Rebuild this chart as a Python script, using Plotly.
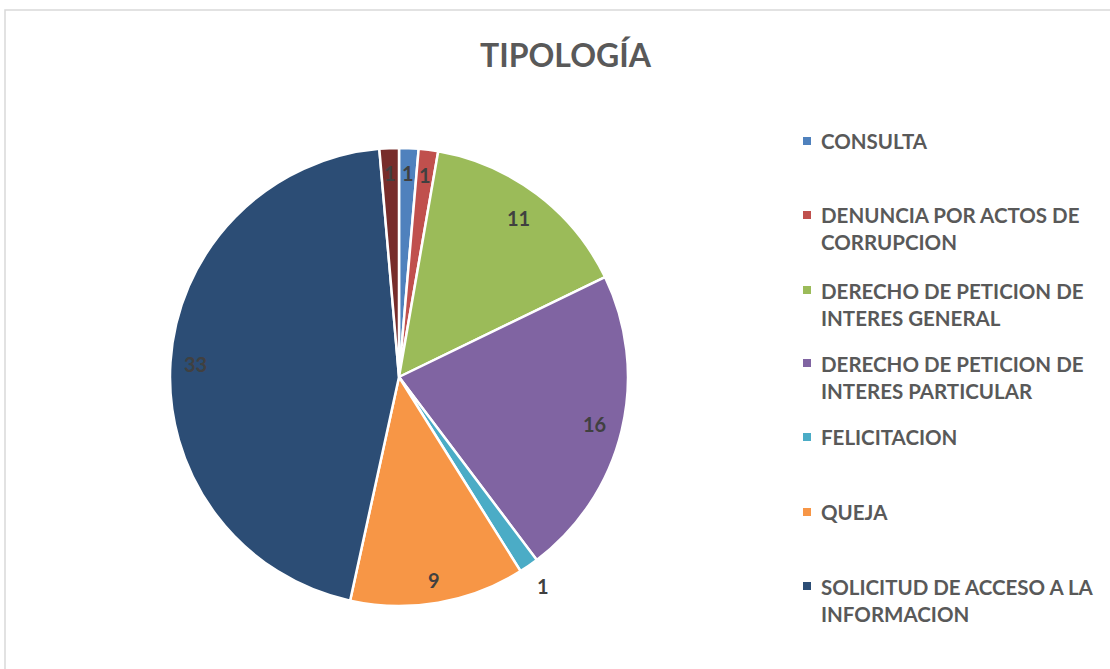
import math
import plotly.graph_objects as go

labels = ['CONSULTA', 'DENUNCIA POR ACTOS DE CORRUPCION', 'DERECHO DE PETICION DE INTERES GENERAL',
          'DERECHO DE PETICION DE INTERES PARTICULAR', 'FELICITACION', 'QUEJA',
          'SOLICITUD DE ACCESO A LA INFORMACION', 'SUGERENCIA']
values = [1, 1, 11, 16, 1, 9, 33, 1]
colors = ['#4F81BD', '#C0504D', '#9BBB59', '#8064A2', '#4BACC6', '#F79646', '#2C4D75', '#772C2A']
label_radius = [0.89, 0.89, 0.87, 0.88, 1.11, 0.9, 0.89, 0.89]  # fraction of pie radius

# legend rows as drawn in the reference (last slice has no visible entry)
legend_text = ['CONSULTA', 'DENUNCIA POR ACTOS DE<br>CORRUPCION', 'DERECHO DE PETICION DE<br>INTERES GENERAL',
               'DERECHO DE PETICION DE<br>INTERES PARTICULAR', 'FELICITACION', 'QUEJA',
               'SOLICITUD DE ACCESO A LA<br>INFORMACION']
legend_y = [141, 229, 304, 377, 437, 512, 600]
legend_lines = [1, 2, 2, 2, 1, 1, 2]

W, H = 1110, 669
FONT = 'Lato'
GREY = '#595959'
CX, CY, R = 399, 377, 229

fig = go.Figure()
fig.add_trace(go.Pie(
    labels=labels, values=values, sort=False, direction='clockwise', rotation=0,
    marker=dict(colors=colors, line=dict(color='white', width=2.5)),
    textinfo='none', hoverinfo='label+value',
    domain=dict(x=[(CX - R) / W, (CX + R) / W], y=[(H - CY - R) / H, (H - CY + R) / H]),
    showlegend=False,
))

shapes = [dict(type='rect', xref='paper', yref='paper', x0=5 / W, x1=1.01, y0=-0.01, y1=(H - 10) / H,
               line=dict(color='#D9D9D9', width=1.5), fillcolor='rgba(0,0,0,0)')]
annotations = [dict(text='<b>TIPOLOGÍA</b>', x=566 / W, y=(H - 55) / H, xref='paper', yref='paper',
                    showarrow=False, xanchor='center', yanchor='middle',
                    font=dict(family=FONT, size=32, color=GREY))]

# data labels placed along each slice's mid angle
total = sum(values)
cum = 0
for v, rf in zip(values, label_radius):
    mid = (cum + v / 2) / total * 2 * math.pi
    cum += v
    px = CX + rf * R * math.sin(mid)
    py = CY - rf * R * math.cos(mid)
    annotations.append(dict(text='<b>%d</b>' % v, x=px / W, y=(H - py) / H, xref='paper', yref='paper',
                            showarrow=False, xanchor='center', yanchor='middle',
                            font=dict(family=FONT, size=20, color='#404040')))

for i, txt in enumerate(legend_text):
    yc = legend_y[i]
    top = yc - (legend_lines[i] - 1) * 14
    shapes.append(dict(type='rect', xref='paper', yref='paper',
                       x0=803 / W, x1=811 / W, y0=(H - top - 4) / H, y1=(H - top + 4) / H,
                       line=dict(width=0), fillcolor=colors[i]))
    annotations.append(dict(text='<b>' + txt + '</b>', x=819 / W, y=(H - yc) / H, xref='paper', yref='paper',
                            showarrow=False, xanchor='left', yanchor='middle', align='left',
                            font=dict(family=FONT, size=20.5, color=GREY)))

fig.update_layout(
    width=W, height=H, margin=dict(l=0, r=0, t=0, b=0),
    paper_bgcolor='white', plot_bgcolor='white',
    shapes=shapes, annotations=annotations,
)

fig.write_html('out.html', config={'displayModeBar': False},
               post_script="document.body.style.margin='0';")
